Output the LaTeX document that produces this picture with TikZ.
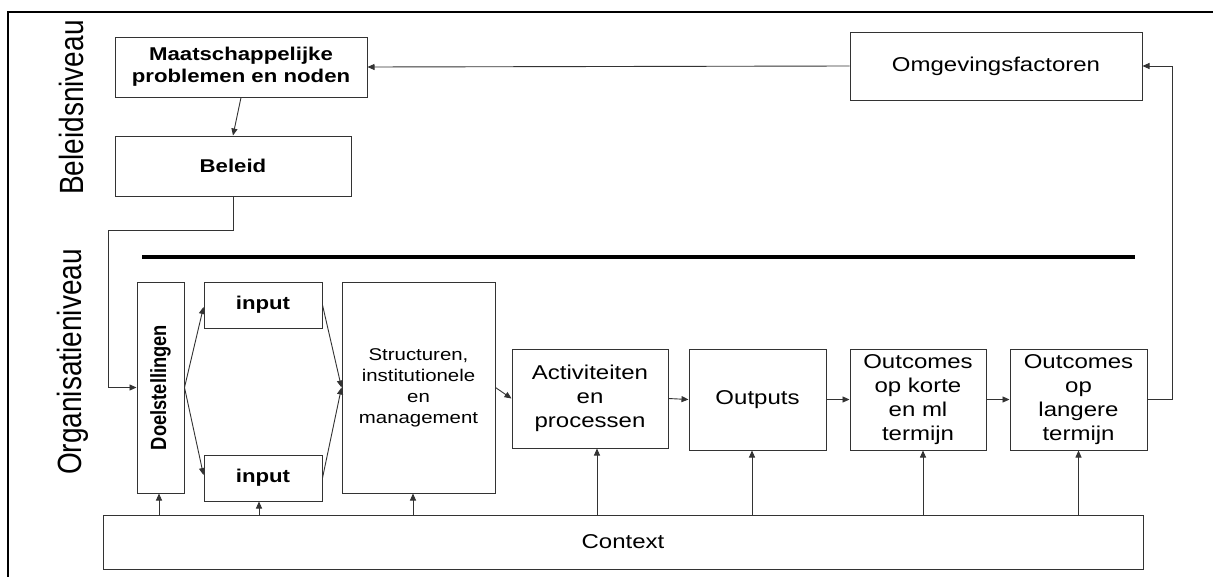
\documentclass[tikz,border=0pt]{standalone}
\usepackage{fontspec}
\setmainfont{Liberation Sans}[FakeStretch=1.2]
\newfontfamily\plainsans{Liberation Sans}
\usetikzlibrary{arrows.meta}
\begin{document}
\begin{tikzpicture}[x=1pt,y=-1pt,
  box/.style={draw=black!80, line width=1pt, inner sep=0pt, align=center, fill=white},
  boldtxt/.style={font=\bfseries\fontsize{18.5}{22}\selectfont},
  regtxt/.style={font=\fontsize{20}{24}\selectfont},
  smalltxt/.style={font=\fontsize{17}{21}\selectfont},
  conn/.style={draw=black!80, line width=0.9pt},
  arr/.style={conn, -{Triangle[length=7pt,width=6pt]}},
  levellabel/.style={inner sep=0pt, rotate=90, font=\plainsans\fontsize{28}{30}\selectfont}]
\useasboundingbox (0,0) rectangle (1213,576);
\fill[white] (0,0) rectangle (1213,576);
% frame
\draw[line width=2.3pt] (8,620) -- (8,12) -- (1240,12);
% level labels
\node[levellabel] (lbel) at (71.5,107.5) {\scalebox{1}[1.2]{Beleidsniveau}};
\node[levellabel] (lorg) at (72.5,362) {\scalebox{1}[1.2]{Organisatieniveau}};
% separator
\draw[line width=3.5pt] (142,257) -- (1135,257);
% boxes
\node[box,boldtxt,minimum width=252pt,minimum height=60pt] (maat) at (241,67) {Maatschappelijke\\problemen en noden};
\node[box,boldtxt,minimum width=236pt,minimum height=60pt] (beleid) at (233,166) {Beleid};
\node[box,regtxt,minimum width=292pt,minimum height=68pt] (omg) at (996,66) {Omgevingsfactoren};
\node[box,minimum width=47pt,minimum height=211pt] (doel) at (160.5,387.5)
  {\rotatebox{90}{\scalebox{1}[1.2]{\plainsans\bfseries\fontsize{18.3}{20}\selectfont Doelstellingen}}};
\node[box,boldtxt,minimum width=118pt,minimum height=46pt] (intop) at (263,305) {input};
\node[box,boldtxt,minimum width=118pt,minimum height=46pt] (inbot) at (263,478) {input};
\node[box,smalltxt,minimum width=153pt,minimum height=211pt] (struct) at (418.5,387.5) {Structuren,\\institutionele\\en\\management};
\node[box,regtxt,minimum width=156pt,minimum height=99pt] (act) at (590,398.5) {Activiteiten\\en\\processen};
\node[box,regtxt,minimum width=137pt,minimum height=101pt] (out) at (757.5,399.5) {Outputs};
\node[box,regtxt,minimum width=136pt,minimum height=101pt] (okort) at (918,399.5) {Outcomes\\op korte\\en ml\\termijn};
\node[box,regtxt,minimum width=137pt,minimum height=101pt] (olang) at (1078.5,399.5) {Outcomes\\op\\langere\\termijn};
\node[box,regtxt,minimum width=1040pt,minimum height=54pt] (context) at (623,542) {Context};
% connectors
\coordinate (c1) at (108,230);
\coordinate (c2) at (1172,399.5);
\draw[arr] (omg.west) -- (maat.east);
\draw[arr] (maat.south) -- (beleid.north);
\draw[arr] (beleid.south) |- (c1) |- (doel.west);
\draw[arr] (doel.east) -- ([yshift=-2pt]intop.west);
\draw[arr] (doel.east) -- ([yshift=3pt]inbot.west);
\draw[arr] (intop.east) -- (struct.west);
\draw[arr] (inbot.east) -- (struct.west);
\draw[arr] (struct.east) -- (act.west);
\draw[arr] (act.east) -- (out.west);
\draw[arr] (out.east) -- (okort.west);
\draw[arr] (okort.east) -- (olang.west);
\draw[arr] (olang.east) -- (c2) |- (omg.east);
% context arrows
\draw[arr] ([xshift=-1.5pt]doel.south |- context.north) -- ([xshift=-1.5pt]doel.south);
\draw[arr] ([xshift=-4pt]inbot.south |- context.north) -- ([xshift=-4pt]inbot.south);
\draw[arr] ([xshift=-5.5pt]struct.south |- context.north) -- ([xshift=-5.5pt]struct.south);
\draw[arr] ([xshift=7pt]act.south |- context.north) -- ([xshift=7pt]act.south);
\draw[arr] ([xshift=-5.5pt]out.south |- context.north) -- ([xshift=-5.5pt]out.south);
\draw[arr] ([xshift=5pt]okort.south |- context.north) -- ([xshift=5pt]okort.south);
\draw[arr] (olang.south |- context.north) -- (olang.south);
\end{tikzpicture}
\end{document}
